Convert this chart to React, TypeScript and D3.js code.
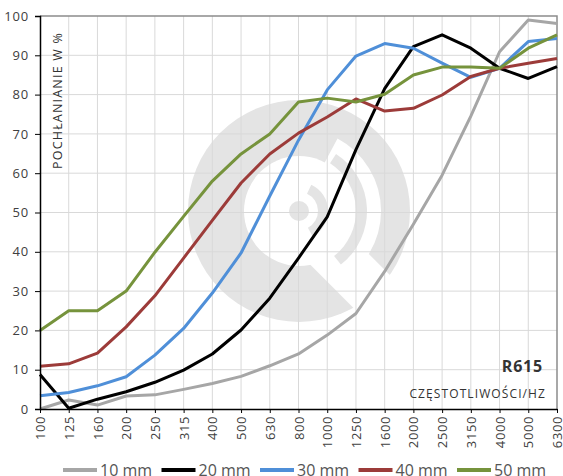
import React, { useEffect, useRef } from 'react';
import * as d3 from 'd3';

const categories = ['100', '125', '160', '200', '250', '315', '400', '500', '630', '800', '1000', '1250', '1600', '2000', '2500', '3150', '4000', '5000', '6300'];
const mm10 = [0, 2.3, 1.0, 3.3, 3.6, 5, 6.5, 8.3, 11, 14, 18.8, 24.3, 35, 47, 59.5, 74.5, 90.9, 99, 98.1];
const mm20 = [8.8, 0.2, 2.5, 4.4, 6.8, 9.9, 14, 20.1, 28.2, 38.4, 48.9, 66, 81.5, 92.2, 95.2, 91.8, 86.7, 84.1, 87.1];
const mm30 = [3.4, 4.2, 5.9, 8.2, 13.7, 20.5, 29.5, 39.7, 54.2, 68.4, 81.2, 89.8, 93, 91.8, 88, 84.4, 86.7, 93.5, 94.3];
const mm40 = [10.9, 11.5, 14.2, 20.9, 28.8, 38.4, 48, 57.5, 64.9, 70.2, 74.3, 78.9, 75.8, 76.5, 79.9, 84.6, 86.7, 88, 89.2];
const mm50 = [20, 25, 25, 30, 39.9, 49, 58, 64.9, 70, 78.1, 79.1, 78.1, 80.1, 85, 87, 87, 86.7, 91.8, 95.2];
const seriesNames = ['10 mm', '20 mm', '30 mm', '40 mm', '50 mm'];
const colors = ['#a6a6a6', '#000000', '#4f8fd8', '#9c3b39', '#76933c'];
const yTicks = [0, 10, 20, 30, 40, 50, 60, 70, 80, 90, 100];

const W = 563, H = 476;
const left = 40, right = 557, top = 16, bottom = 409;
const FONT = '"Open Sans", sans-serif';

export default function App() {
  const svgRef = useRef<SVGSVGElement>(null);

  useEffect(() => {
    if (!svgRef.current) return;
    const svg = d3.select(svgRef.current);
    svg.selectAll('*').remove();

    const x = d3.scalePoint<string>().domain(categories).range([left, right]);
    const y = d3.scaleLinear().domain([0, 100]).range([bottom, top]);
    const all = [mm10, mm20, mm30, mm40, mm50];

    svg.append('rect').attr('width', W).attr('height', H).attr('fill', '#fff');

    // watermark logo behind the grid
    const wm = svg.append('g').attr('transform', 'translate(299,211)');
    const gray = '#e4e4e4';
    const rad = (deg: number) => (deg + 90) * Math.PI / 180;
    wm.append('circle').attr('r', 111).attr('fill', gray);
    wm.append('circle').attr('r', 55).attr('fill', '#fff');
    const arc = d3.arc<any>();
    wm.append('path')
      .attr('d', arc({ innerRadius: 54, outerRadius: 82, startAngle: rad(-62), endAngle: rad(62) }))
      .attr('fill', '#fff');
    const band = [[40, -30], [135, -30], [135, 19], [62, 19]].map(([u, v]) => {
      const c = Math.SQRT1_2;
      return [u * c + v * c, u * c - v * c];
    });
    wm.append('path').attr('d', d3.line()(band as [number, number][]) + 'Z').attr('fill', '#fff');
    wm.append('path')
      .attr('d', arc({ innerRadius: 57, outerRadius: 68, startAngle: rad(-57), endAngle: rad(52) }))
      .attr('fill', gray);
    wm.append('path')
      .attr('d', arc({ innerRadius: 19, outerRadius: 29, startAngle: rad(-65), endAngle: rad(62) }))
      .attr('fill', gray);
    wm.append('circle').attr('r', 10).attr('fill', gray);

    // grid
    const grid = svg.append('g').attr('stroke', '#d9d9d9').attr('stroke-width', 1);
    yTicks.filter(t => t > 0 && t < 100).forEach(t => {
      grid.append('line').attr('x1', left).attr('x2', right).attr('y1', y(t)).attr('y2', y(t));
    });
    categories.slice(1, -1).forEach(c => {
      grid.append('line').attr('x1', x(c)!).attr('x2', x(c)!).attr('y1', top).attr('y2', bottom);
    });
    svg.append('path')
      .attr('d', `M${left},${top}H${right}V${bottom}`)
      .attr('fill', 'none').attr('stroke', '#8c8c8c').attr('stroke-width', 1.5);

    // series
    const line = d3.line<number>().x((_, i) => x(categories[i])!).y(d => y(d));
    all.forEach((s, i) => {
      svg.append('path').attr('d', line(s)!).attr('fill', 'none')
        .attr('stroke', colors[i]).attr('stroke-width', 3).attr('stroke-linejoin', 'round');
    });

    // axes
    const yAxis = svg.append('g').attr('transform', `translate(${left},0)`)
      .call(d3.axisLeft(y).tickValues(yTicks).tickSize(5).tickPadding(6));
    yAxis.select('.domain').attr('stroke', '#000').attr('stroke-width', 1.5);
    yAxis.selectAll('.tick line').attr('stroke', '#000');
    yAxis.selectAll('text').attr('font-family', FONT).attr('font-size', 13).attr('fill', '#404040')
      .attr('letter-spacing', 0.8);

    const xAxis = svg.append('g').attr('transform', `translate(0,${bottom})`)
      .call(d3.axisBottom(x).tickSize(4).tickSizeOuter(0));
    xAxis.select('.domain').attr('stroke', '#000').attr('stroke-width', 1.5);
    xAxis.selectAll('.tick line').attr('stroke', '#000');
    xAxis.selectAll('text')
      .attr('font-family', FONT).attr('font-size', 13).attr('fill', '#404040').attr('letter-spacing', 0.6)
      .attr('transform', 'rotate(-90)').attr('text-anchor', 'end')
      .attr('x', -7).attr('y', 0).attr('dy', '0.35em');

    // labels
    svg.append('text').attr('transform', 'translate(61.5,32) rotate(-90)')
      .attr('text-anchor', 'end').attr('font-family', FONT).attr('font-size', 12.5)
      .attr('letter-spacing', 1.2).attr('fill', '#333').text('POCHŁANIANIE W %');
    svg.append('text').attr('x', 543).attr('y', 372).attr('text-anchor', 'end')
      .attr('font-family', FONT).attr('font-size', 16).attr('font-weight', 'bold')
      .attr('letter-spacing', 0.8).attr('fill', '#333').text('R615');
    svg.append('text').attr('x', 546).attr('y', 398).attr('text-anchor', 'end')
      .attr('font-family', FONT).attr('font-size', 12).attr('letter-spacing', 1.1)
      .attr('fill', '#333').text('CZĘSTOTLIWOŚCI/HZ');

    // legend
    const lg = svg.append('g');
    seriesNames.forEach((n, i) => {
      const lx = 63 + i * 98.5;
      lg.append('line').attr('x1', lx).attr('x2', lx + 34).attr('y1', 470).attr('y2', 470)
        .attr('stroke', colors[i]).attr('stroke-width', 4);
      lg.append('text').attr('x', lx + 37).attr('y', 475.5).attr('font-family', FONT)
        .attr('font-size', 16).attr('fill', '#555').text(n);
    });
  }, []);

  return (
    <svg ref={svgRef} width={W} height={H}
      style={{ position: 'absolute', left: 0, top: 0, display: 'block' }} />
  );
}
